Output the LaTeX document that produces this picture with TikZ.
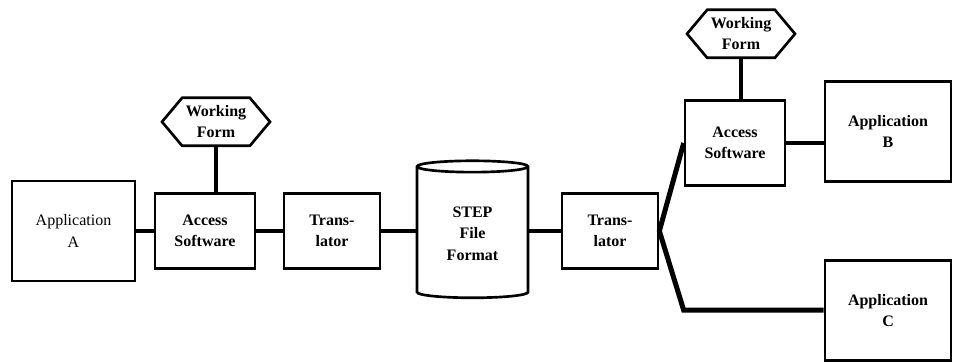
\documentclass[tikz,border=0pt]{standalone}
\usepackage{fontspec}
\setmainfont{Liberation Serif}
\usepackage{tikz}
\usetikzlibrary{positioning,shapes.geometric,shapes.symbols}
\tikzset{
 block/.style={draw=black,line width=2pt,fill=white,align=center,
   font=\fontsize{12}{16}\selectfont\bfseries,minimum width=75pt,minimum height=56.25pt,inner sep=2pt},
 appl/.style={block,minimum width=94.5pt,minimum height=75pt},
 form/.style={block,signal,signal to=west and east,signal pointer angle=100,
   minimum width=81pt,minimum height=36pt,inner sep=0pt},
 store/.style={block,cylinder,shape border rotate=90,aspect=0.2,
   minimum width=83.25pt,minimum height=102.75pt},
 link/.style={line width=3pt,draw=black},
 fan/.style={link,line width=3.75pt,line join=miter}
}
\begin{document}
\begin{tikzpicture}[x=0.75pt,y=0.75pt,node distance=15pt]
\useasboundingbox (0,0) rectangle (953,361);
\node[appl,font=\fontsize{12}{16}\selectfont,minimum width=92.25pt] (appa) at (73.5,130) {Application\\A};
\node[block,right=13pt of appa] (accl) {Access\\Software};
\node[block,right=19.75pt of accl,minimum width=72pt] (trl) {Trans-\\lator};
\node[store,right=25.75pt of trl,yshift=-2pt] (step) {STEP\\File\\Format};
\node[block,right=23.5pt of step,yshift=2pt,minimum width=72pt] (trr) {Trans-\\lator};
\node[block,right=18.25pt of trr,yshift=66pt,minimum height=63.75pt] (accr) {Access\\Software};
\node[appl,right=28pt of accr,yshift=8.6pt] (appb) {Application\\B};
\node[appl,below=57pt of appb] (appc) {Application\\C};
\node[form,above=33.75pt of accl,xshift=8.25pt] (wfl) {Working\\Form};
\node[form,above=30pt of accr,xshift=4.5pt] (wfr) {Working\\Form};
\draw[link] (appa)--(accl);\draw[link] (accl)--(trl);
\draw[link] (trl)--(trl-|step.west);\draw[link] (trr-|step.east)--(trr);
\draw[link] (wfl.south)--(wfl.south|-accl.north);\draw[link] (wfr.south)--(wfr.south|-accr.north);
\draw[link] (accr.east)--(accr.east-|appb.west);
\draw[fan] (accr.west)--(trr.east)--(accr.west|-appc.west)--(appc.west);
\end{tikzpicture}
\end{document}
